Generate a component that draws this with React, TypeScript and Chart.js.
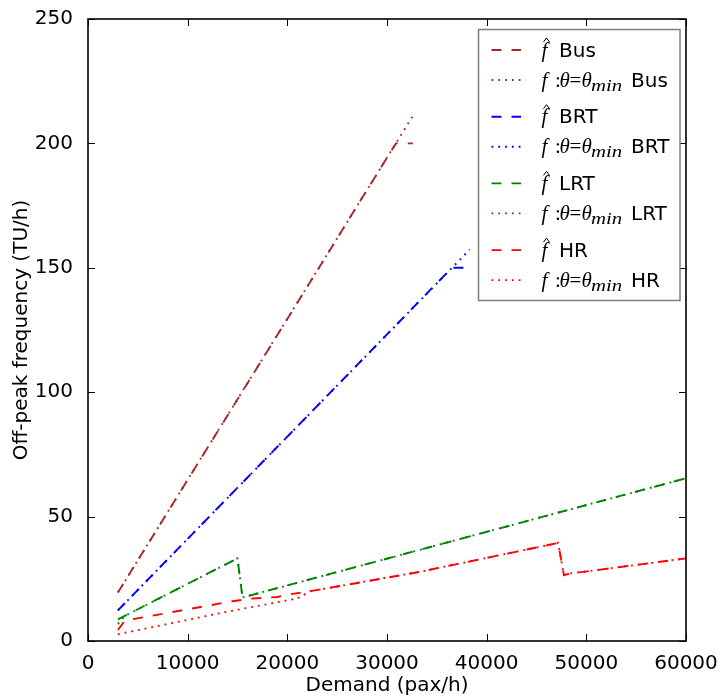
import React, { useEffect, useRef } from 'react';
import { Chart, registerables } from 'chart.js';

Chart.register(...registerables);

// ---- data ----
const modes = ['Bus', 'BRT', 'LRT', 'HR'];
const modeColors = ['#a52a2a', '#0000ff', '#008000', '#ff0000'];

const xTickValues = [0, 10000, 20000, 30000, 40000, 50000, 60000];
const yTickValues = [0, 50, 100, 150, 200, 250];

const busHatDemand = [3000, 30400, 30900, 32600];
const busHatFreq = [19.5, 196.8, 200, 200];
const busMinDemand = [3000, 32600];
const busMinFreq = [19.5, 211.1];

const brtHatDemand = [3000, 36000, 36500, 38600];
const brtHatFreq = [12.3, 147.9, 150, 150];
const brtMinDemand = [3000, 38300];
const brtMinFreq = [12.3, 157.3];

const lrtHatDemand = [3000, 15000, 15500, 60000];
const lrtHatFreq = [8.7, 33.2, 17.5, 65.4];
const lrtMinDemand = [3000, 3700, 15000, 15500, 60000];
const lrtMinFreq = [6.8, 10.1, 33.2, 17.5, 65.4];

const hrHatDemand = [3000, 3700, 14500, 16300, 19000, 20100, 22300, 33300, 47170, 47750, 48400, 49700, 60000];
const hrHatFreq = [4.4, 8.2, 16.0, 17.0, 17.7, 18.7, 20.0, 27.8, 39.4, 26.5, 27.2, 27.8, 33.2];
const hrMinDemand = [3000, 14000, 21000, 22300, 33300, 47170, 47750, 48400, 49700, 60000];
const hrMinFreq = [2.7, 11.8, 17.1, 20.0, 27.8, 39.4, 26.5, 27.2, 27.8, 33.2];

const hatSeries = [
  [busHatDemand, busHatFreq],
  [brtHatDemand, brtHatFreq],
  [lrtHatDemand, lrtHatFreq],
  [hrHatDemand, hrHatFreq],
];
const minSeries = [
  [busMinDemand, busMinFreq],
  [brtMinDemand, brtMinFreq],
  [lrtMinDemand, lrtMinFreq],
  [hrMinDemand, hrMinFreq],
];

const DASH = [10, 10];
const DOT = [1.8, 5];
const SANS = '"DejaVu Sans", sans-serif';
const SERIF = '"Liberation Serif", "DejaVu Serif", serif';

const toPoints = (xs: number[], ys: number[]) => xs.map((x, i) => ({ x, y: ys[i] }));

const framePlugin = {
  id: 'mplFrame',
  afterDatasetsDraw(chart: any) {
    const { ctx, chartArea, scales } = chart;
    const { left, right, top, bottom } = chartArea;
    const xs = scales.x;
    const ys = scales.y;
    const tl = 7;
    ctx.save();
    ctx.strokeStyle = '#000';
    ctx.lineWidth = 1;
    ctx.beginPath();
    xs.ticks.forEach((t: any) => {
      const px = Math.round(xs.getPixelForValue(t.value)) + 0.5;
      ctx.moveTo(px, bottom);
      ctx.lineTo(px, bottom - tl);
      ctx.moveTo(px, top);
      ctx.lineTo(px, top + tl);
    });
    ys.ticks.forEach((t: any) => {
      const py = Math.round(ys.getPixelForValue(t.value)) + 0.5;
      ctx.moveTo(left, py);
      ctx.lineTo(left + tl, py);
      ctx.moveTo(right, py);
      ctx.lineTo(right - tl, py);
    });
    ctx.stroke();
    ctx.lineWidth = 1.6;
    ctx.strokeRect(left, top, right - left, bottom - top);
    ctx.restore();
  },
};

const legendPlugin = {
  id: 'mplLegend',
  afterDraw(chart: any) {
    const { ctx } = chart;
    const bx = 478.5, by = 29.5, bw = 201.5, bh = 271;
    ctx.save();
    ctx.fillStyle = '#fff';
    ctx.fillRect(bx, by, bw, bh);
    ctx.strokeStyle = '#7f7f7f';
    ctx.lineWidth = 1.5;
    ctx.strokeRect(bx, by, bw, bh);

    chart.data.datasets.forEach((ds: any, i: number) => {
      const group = Math.floor(i / 2);
      const isMin = i % 2 === 1;
      const cy = 50 + group * 66.7 + (isMin ? 30 : 0);
      // sample line
      ctx.save();
      ctx.strokeStyle = ds.borderColor;
      ctx.lineWidth = ds.borderWidth;
      ctx.setLineDash(ds.borderDash);
      ctx.lineCap = 'butt';
      ctx.beginPath();
      ctx.moveTo(491.5, cy);
      ctx.lineTo(521, cy);
      ctx.stroke();
      ctx.restore();

      ctx.fillStyle = '#000';
      ctx.textBaseline = 'alphabetic';
      ctx.textAlign = 'left';
      const base = cy + 6.5;
      if (!isMin) {
        ctx.font = `italic 21px ${SERIF}`;
        ctx.fillText('f', 541.5, base);
        ctx.strokeStyle = '#000';
        ctx.lineWidth = 1;
        ctx.beginPath();
        ctx.moveTo(543.5, cy - 8);
        ctx.lineTo(546.5, cy - 12);
        ctx.lineTo(549.5, cy - 8);
        ctx.stroke();
        ctx.font = `20px ${SANS}`;
        ctx.fillText(ds.modeName, 559, base);
      } else {
        ctx.font = `italic 21px ${SERIF}`;
        ctx.fillText('f', 541.5, base);
        ctx.font = `21px ${SERIF}`;
        ctx.fillText(':', 555, base);
        ctx.font = `italic 21px ${SERIF}`;
        ctx.fillText('θ', 559.5, base);
        ctx.font = `21px ${SERIF}`;
        ctx.fillText('=', 569.5, base);
        ctx.font = `italic 21px ${SERIF}`;
        ctx.fillText('θ', 581.5, base);
        ctx.font = `italic 16px ${SERIF}`;
        ctx.save();
        ctx.translate(591, base + 4);
        ctx.scale(1.3, 1);
        ctx.fillText('min', 0, 0);
        ctx.restore();
        ctx.font = `20px ${SANS}`;
        ctx.fillText(ds.modeName, 631, base);
      }
    });
    ctx.restore();
  },
};

export default function App() {
  const canvasRef = useRef<HTMLCanvasElement | null>(null);

  useEffect(() => {
    const canvas = canvasRef.current;
    if (!canvas) return;
    const datasets: any[] = [];
    modes.forEach((m, i) => {
      datasets.push({
        label: `f̂ ${m}`,
        modeName: m,
        data: toPoints(hatSeries[i][0], hatSeries[i][1]),
        borderColor: modeColors[i],
        backgroundColor: modeColors[i],
        borderWidth: 1.9,
        borderDash: DASH,
        borderCapStyle: 'butt',
        pointRadius: 0,
        fill: false,
        tension: 0,
        order: 10 - 2 * i,
      });
      datasets.push({
        label: `f:θ=θmin ${m}`,
        modeName: m,
        data: toPoints(minSeries[i][0], minSeries[i][1]),
        borderColor: modeColors[i],
        backgroundColor: modeColors[i],
        borderWidth: 1.9,
        borderDash: DOT,
        borderCapStyle: 'butt',
        pointRadius: 0,
        fill: false,
        tension: 0,
        order: 9 - 2 * i,
      });
    });

    const tickFont = { family: SANS, size: 20 };
    const chart = new Chart(canvas, {
      type: 'line',
      data: { datasets },
      options: {
        responsive: false,
        animation: false,
        devicePixelRatio: 1,
        parsing: false as any,
        layout: { padding: { top: 18, right: 41, left: 0, bottom: 0 } },
        plugins: {
          legend: { display: false },
          tooltip: { enabled: false },
        },
        scales: {
          x: {
            type: 'linear',
            min: xTickValues[0],
            max: xTickValues[xTickValues.length - 1],
            afterBuildTicks: (s: any) => {
              s.ticks = xTickValues.map((v) => ({ value: v }));
            },
            afterFit: (s: any) => {
              s.height = 57;
            },
            grid: { display: false },
            border: { display: false },
            ticks: {
              autoSkip: false,
              maxRotation: 0,
              padding: 3,
              color: '#000',
              font: tickFont,
              callback: (v: any) => String(v),
            },
            title: {
              display: true,
              text: 'Demand (pax/h)',
              color: '#000',
              font: tickFont,
              padding: { top: 0, bottom: 0 },
            },
          },
          y: {
            type: 'linear',
            min: yTickValues[0],
            max: yTickValues[yTickValues.length - 1],
            afterBuildTicks: (s: any) => {
              s.ticks = yTickValues.map((v) => ({ value: v }));
            },
            afterFit: (s: any) => {
              s.width = 88;
            },
            grid: { display: false },
            border: { display: false },
            ticks: {
              autoSkip: false,
              padding: 7,
              color: '#000',
              font: tickFont,
              callback: (v: any) => String(v),
            },
            title: {
              display: true,
              text: 'Off-peak frequency (TU/h)',
              color: '#000',
              font: tickFont,
              padding: { top: 10, bottom: 0 },
            },
          },
        },
      },
      plugins: [framePlugin, legendPlugin],
    } as any);
    return () => chart.destroy();
  }, []);

  return (
    <div style={{ position: 'fixed', left: 0, top: 0, width: 727, height: 698, background: '#fff' }}>
      <canvas ref={canvasRef} width={727} height={698} style={{ display: 'block', width: 727, height: 698 }} />
    </div>
  );
}
